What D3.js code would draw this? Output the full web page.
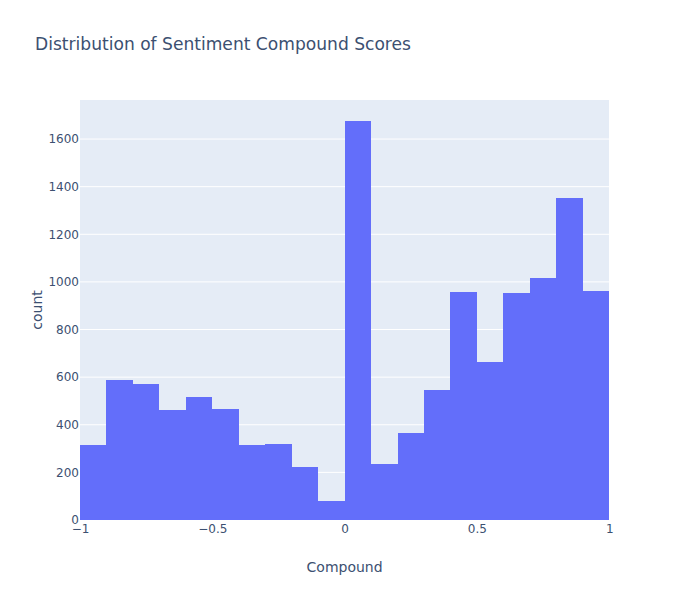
<!DOCTYPE html>
<html>
<head>
<meta charset="utf-8">
<script src="https://cdn.jsdelivr.net/npm/d3@7"></script>
<style>
  html, body { margin: 0; padding: 0; background: #fff; overflow: hidden; }
  text { font-family: "DejaVu Sans", Verdana, sans-serif; fill: #3c5071; }
  .axis path, .axis line { display: none; }
  .axis text { font-size: 12px; fill: #3c5071; }
</style>
</head>
<body>
<div id="chart"></div>
<script>
const binStarts = [-1, -0.9, -0.8, -0.7, -0.6, -0.5, -0.4, -0.3, -0.2, -0.1,
                   0, 0.1, 0.2, 0.3, 0.4, 0.5, 0.6, 0.7, 0.8, 0.9];
const counts = [315, 587, 571, 461, 516, 466, 315, 319, 222, 80,
                1676, 235, 365, 545, 957, 663, 953, 1015, 1352, 961];
const binWidth = 0.1;
const xTicks = [-1, -0.5, 0, 0.5, 1];
const yTicks = [0, 200, 400, 600, 800, 1000, 1200, 1400, 1600];

const width = 700, height = 600;
const margin = {top: 100, right: 90.8, bottom: 80, left: 80};

const x = d3.scaleLinear().domain([-1, 1]).range([margin.left, width - margin.right]);
const y = d3.scaleLinear().domain([0, 1764]).range([height - margin.bottom, margin.top]);

const svg = d3.select('#chart')
  .append('svg')
    .attr('width', width)
    .attr('height', height);

svg.append('rect')
  .attr('x', margin.left)
  .attr('y', margin.top)
  .attr('width', width - margin.left - margin.right)
  .attr('height', height - margin.top - margin.bottom)
  .attr('fill', '#e5ecf6')
  .attr('shape-rendering', 'crispEdges');

svg.append('g')
  .selectAll('line')
  .data(yTicks.slice(1))
  .join('line')
    .attr('x1', margin.left)
    .attr('x2', width - margin.right)
    .attr('y1', d => y(d))
    .attr('y2', d => y(d))
    .attr('stroke', '#fff')
    .attr('stroke-width', 1);

// crisp edges so neighbouring bars leave no seam
svg.append('g')
  .attr('shape-rendering', 'crispEdges')
  .selectAll('rect')
  .data(binStarts)
  .join('rect')
    .attr('x', d => x(d))
    .attr('y', (d, i) => y(counts[i]))
    .attr('width', d => x(d + binWidth) - x(d))
    .attr('height', (d, i) => y(0) - y(counts[i]))
    .attr('fill', '#636efa');

svg.append('g')
    .attr('class', 'axis')
    .attr('transform', `translate(0, ${height - margin.bottom})`)
    .call(d3.axisBottom(x).tickValues(xTicks).tickSize(0).tickPadding(4)
      .tickFormat(d => String(d).replace('-', '\u2212')));

svg.append('g')
    .attr('class', 'axis')
    .attr('transform', `translate(${margin.left}, 0)`)
    .call(d3.axisLeft(y).tickValues(yTicks).tickSize(0).tickPadding(1)
      .tickFormat(d => String(d)));

svg.append('text')
  .attr('x', 35)
  .attr('y', 50)
  .style('font-size', '17.1px')
  .text('Distribution of Sentiment Compound Scores');

svg.append('text')
  .attr('x', (margin.left + width - margin.right) / 2)
  .attr('y', 572)
  .attr('text-anchor', 'middle')
  .style('font-size', '14px')
  .text('Compound');

svg.append('text')
  .attr('transform', `translate(42, ${(margin.top + height - margin.bottom) / 2}) rotate(-90)`)
  .attr('text-anchor', 'middle')
  .style('font-size', '14px')
  .text('count');
</script>
</body>
</html>
